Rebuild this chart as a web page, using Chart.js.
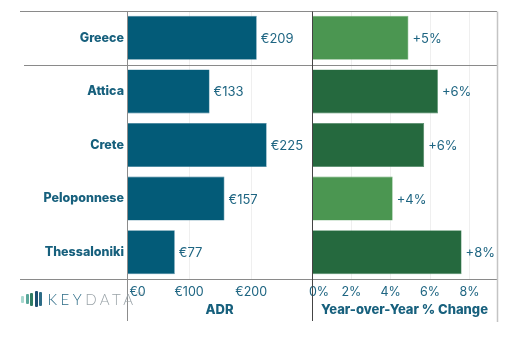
<!DOCTYPE html>
<html>
<head>
<meta charset="utf-8">
<script src="https://cdn.jsdelivr.net/npm/chart.js@4/dist/chart.umd.min.js"></script>
<style>
  html, body { margin: 0; padding: 0; background: #fff; }
  #wrap { position: relative; width: 510px; height: 351px; overflow: hidden; font-family: 'Inter', 'Open Sans', sans-serif; }
  #left { position: absolute; left: 0; top: 0; width: 312px; height: 351px; }
  #right { position: absolute; left: 300px; top: 0; width: 210px; height: 351px; }
  #logo { position: absolute; left: 21px; top: 290px; height: 18px; display: flex; align-items: center; }
  #logo .b { display: inline-block; width: 3px; margin-right: 1.5px; border-radius: 1px; }
  #logo .t { margin-left: 4px; font-family: 'Lato', sans-serif; font-weight: 300; font-size: 15px; letter-spacing: 3.5px; color: #9aa3a8; line-height: 18px; }
  #logo .t span { color: #2c6b86; }
  #logo sup { font-size: 5px; letter-spacing: 0; vertical-align: top; color: #9aa3a8; line-height: 8px; }
</style>
</head>
<body>
<div id="wrap">
  <canvas id="left" width="312" height="351"></canvas>
  <canvas id="right" width="210" height="351"></canvas>
  <div id="logo">
    <i class="b" style="height:7px;background:#a8d8cf"></i>
    <i class="b" style="height:10px;background:#5aa79a"></i>
    <i class="b" style="height:13px;background:#2f7c63"></i>
    <i class="b" style="height:16px;background:#1f4f72"></i>
    <i class="b" style="height:14px;background:#2c6b86"></i>
    <div class="t"><span>KEY</span>DATA<sup>TM</sup></div>
  </div>
</div>
<script>
const categories = ['Greece', 'Attica', 'Crete', 'Peloponnese', 'Thessaloniki'];
const adrValues = [209, 133, 225, 157, 77];
const yoyValues = [4.9, 6.4, 5.7, 4.1, 7.6];
const yoyShade = ['light', 'dark', 'dark', 'light', 'dark'];
const adrTicks = [0, 100, 200];
const yoyTicks = [0, 2, 4, 6, 8];
const adrTitle = 'ADR';
const yoyTitle = 'Year-over-Year % Change';

const TEXT = '#1e6582';
const CAT = '#17607d';
const BLUE = '#035b78';
const GREEN_LIGHT = '#4b9651';
const GREEN_DARK = '#25693e';
const FONT = "'Inter', 'Open Sans', sans-serif";

Chart.defaults.animation = false;
Chart.defaults.font.family = FONT;

function labelPlugin(fmt) {
  return {
    id: 'barLabels',
    afterDatasetsDraw(chart) {
      const ctx = chart.ctx;
      const meta = chart.getDatasetMeta(0);
      const data = chart.data.datasets[0].data;
      ctx.save();
      ctx.font = '400 13px ' + FONT;
      ctx.fillStyle = TEXT;
      ctx.textBaseline = 'middle';
      ctx.textAlign = 'left';
      meta.data.forEach((bar, i) => {
        ctx.fillText(fmt(data[i]), bar.x + 4, bar.y + 1);
      });
      ctx.restore();
    }
  };
}

function framePlugin(opts) {
  return {
    id: 'frame',
    afterDraw(chart) {
      const ctx = chart.ctx;
      const a = chart.chartArea;
      const y = chart.scales.y;
      ctx.save();
      ctx.lineWidth = 1;
      const sep = Math.round((y.getPixelForValue(0) + y.getPixelForValue(1)) / 2) + 0.5;
      const top = Math.round(a.top) + 0.5;
      const bot = Math.round(a.bottom) + 0.5;
      ctx.strokeStyle = '#8a8a8a';
      ctx.beginPath();
      ctx.moveTo(opts.x0Top, top); ctx.lineTo(opts.x1, top);
      ctx.moveTo(opts.x0Sep, sep); ctx.lineTo(opts.x1, sep);
      ctx.moveTo(opts.x0Top, bot); ctx.lineTo(opts.x1, bot);
      ctx.stroke();
      const lx = Math.round(a.left) + 0.5;
      ctx.strokeStyle = opts.axisColor;
      ctx.beginPath();
      ctx.moveTo(lx, top); ctx.lineTo(lx, 321);
      ctx.stroke();
      if (opts.rightBorder) {
        const rx = Math.round(a.right) + 0.5;
        ctx.strokeStyle = '#c4c4c4';
        ctx.lineWidth = 1.5;
        ctx.beginPath();
        ctx.moveTo(rx, top); ctx.lineTo(rx, 322);
        ctx.stroke();
      }
      ctx.restore();
    }
  };
}

function xScale(max, ticks, fmt, title) {
  return {
    type: 'linear',
    min: 0,
    max: max,
    afterBuildTicks(scale) { scale.ticks = ticks.map(v => ({ value: v })); },
    afterFit(scale) { scale.height = 72; scale.paddingLeft = 0; scale.paddingRight = 0; },
    border: { display: false },
    grid: { color: '#efefef', drawTicks: false, lineWidth: 1 },
    ticks: {
      color: TEXT,
      padding: 6,
      maxRotation: 0,
      font: { size: 12.5, weight: '400' },
      callback: (v) => fmt(v)
    },
    title: {
      display: true,
      text: title,
      color: CAT,
      font: { size: 13, weight: '800' },
      padding: { top: 0, bottom: 33 }
    }
  };
}

const leftChart = new Chart(document.getElementById('left'), {
  type: 'bar',
  data: {
    labels: categories,
    datasets: [{
      data: adrValues,
      backgroundColor: BLUE,
      borderColor: '#3b7e98',
      borderWidth: 0.6,
      categoryPercentage: 1,
      barPercentage: 0.82
    }]
  },
  options: {
    indexAxis: 'y',
    responsive: false,
    layout: { padding: { top: 11, left: 0, right: 0, bottom: 0 } },
    plugins: { legend: { display: false }, tooltip: { enabled: false } },
    scales: {
      x: xScale(298, adrTicks, v => (v === 0 ? '      ' : '') + '€' + v, adrTitle),
      y: {
        afterFit(scale) { scale.width = 127; },
        border: { display: false },
        grid: { display: false, drawTicks: false },
        ticks: {
          color: CAT,
          padding: 3,
          font: { size: 12.5, weight: '800' }
        }
      }
    }
  },
  plugins: [labelPlugin(v => '€' + v), framePlugin({ x0Top: 20, x0Sep: 24, x1: 312, axisColor: '#8c8c8c', rightBorder: false })]
});

const rightChart = new Chart(document.getElementById('right'), {
  type: 'bar',
  data: {
    labels: categories,
    datasets: [{
      data: yoyValues,
      backgroundColor: yoyShade.map(s => s === 'light' ? GREEN_LIGHT : GREEN_DARK),
      borderColor: yoyShade.map(s => s === 'light' ? '#6aad6f' : '#4a8a60'),
      borderWidth: 0.6,
      categoryPercentage: 1,
      barPercentage: 0.82
    }]
  },
  options: {
    indexAxis: 'y',
    responsive: false,
    layout: { padding: { top: 11, left: 12, right: 13, bottom: 0 } },
    plugins: { legend: { display: false }, tooltip: { enabled: false } },
    scales: {
      x: xScale(9.4, yoyTicks, v => (v === 0 ? '    ' : '') + v + '%', yoyTitle),
      y: {
        display: false
      }
    }
  },
  plugins: [labelPlugin(v => '+' + Math.round(v) + '%'), framePlugin({ x0Top: 0, x0Sep: 0, x1: 197, axisColor: '#444', rightBorder: true })]
});
</script>
</body>
</html>
